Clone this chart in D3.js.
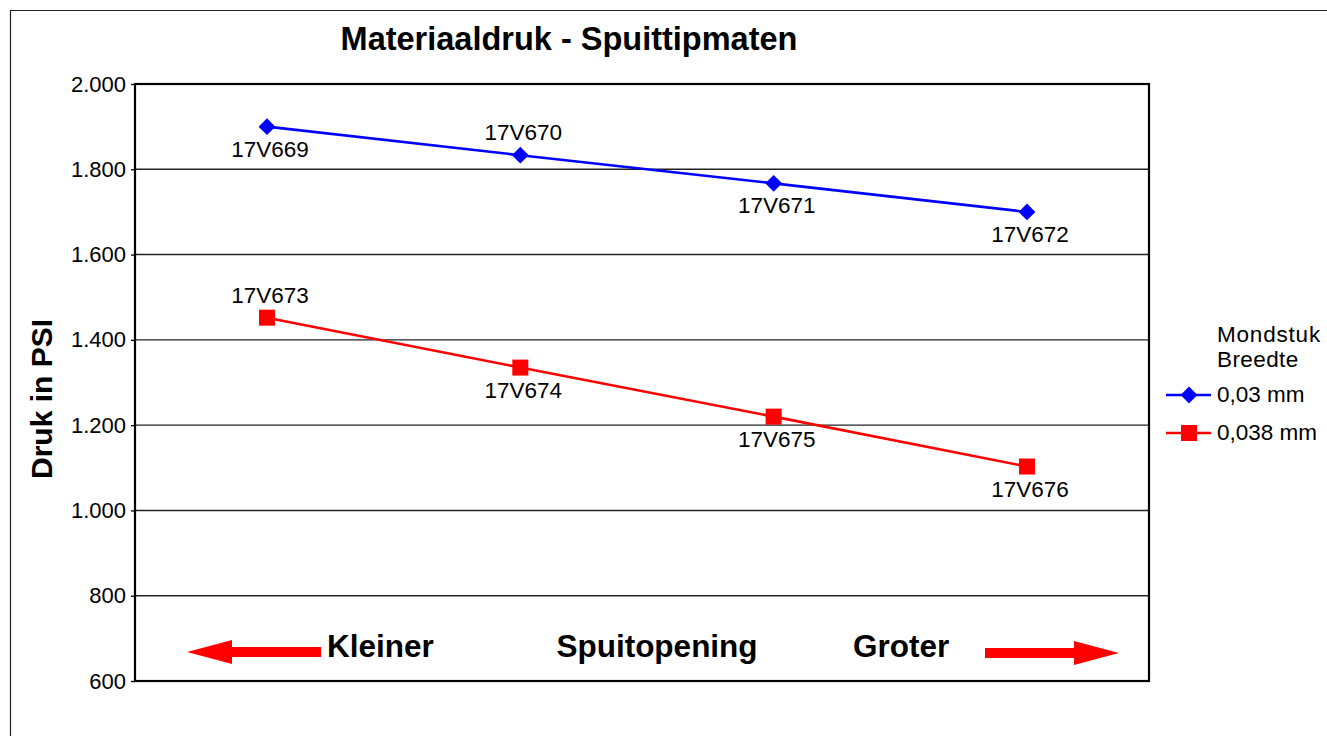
<!DOCTYPE html>
<html>
<head>
<meta charset="utf-8">
<script src="https://cdn.jsdelivr.net/npm/d3@7"></script>
<style>
  html, body { margin: 0; padding: 0; background: #fff; }
  svg { display: block; font-family: "Liberation Sans", Arial, Helvetica, sans-serif; }
</style>
</head>
<body>
<svg id="chart" width="1327" height="736"></svg>
<script>
// Nozzle tip sizes (categories along the x axis)
const positions = ["1", "2", "3", "4"];
// Pressure in PSI per nozzle width
const series003 = [1900, 1833, 1767, 1700];
const series0038 = [1452, 1335, 1220, 1103];
// Tip part numbers for each point
const labels003 = ["17V669", "17V670", "17V671", "17V672"];
const labels0038 = ["17V673", "17V674", "17V675", "17V676"];
// Label placement: true = above the point
const above003 = [false, true, false, false];
const above0038 = [true, false, false, false];
// Y axis ticks
const yTicks = [600, 800, 1000, 1200, 1400, 1600, 1800, 2000];
const yTickLabels = ["600", "800", "1.000", "1.200", "1.400", "1.600", "1.800", "2.000"];
const seriesNames = ["0,03 mm", "0,038 mm"];

const svg = d3.select("#chart");
const plot = { left: 135, right: 1149, top: 84, bottom: 681 };

const x = d3.scalePoint().domain(positions).range([267, 1027]);
const y = d3.scaleLinear().domain([600, 2000]).range([plot.bottom, plot.top]);

// outer frame
svg.append("path")
  .attr("d", `M10.5,736 V10.5 H1327`)
  .attr("fill", "none").attr("stroke", "#222").attr("stroke-width", 1.2);

// title
svg.append("text")
  .attr("x", 569).attr("y", 50)
  .attr("text-anchor", "middle")
  .attr("font-size", 32.5).attr("font-weight", "bold")
  .text("Materiaaldruk - Spuittipmaten");

// gridlines
svg.append("g").selectAll("line")
  .data(yTicks.filter(d => d !== 600 && d !== 2000))
  .join("line")
  .attr("x1", plot.left).attr("x2", plot.right)
  .attr("y1", d => y(d)).attr("y2", d => y(d))
  .attr("stroke", "#222").attr("stroke-width", 1.4);

// y axis
const yAxis = d3.axisLeft(y)
  .tickValues(yTicks)
  .tickSize(4)
  .tickPadding(5)
  .tickFormat((d, i) => yTickLabels[i]);
const ga = svg.append("g").attr("transform", `translate(${plot.left},0)`).call(yAxis);
ga.select(".domain").remove();
ga.selectAll(".tick line").attr("stroke", "#000").attr("stroke-width", 1.3);
ga.selectAll(".tick text")
  .attr("font-size", 22)
  .attr("font-family", "Liberation Sans, Arial, sans-serif")
  .attr("fill", "#000");

// plot frame
svg.append("rect")
  .attr("x", plot.left).attr("y", plot.top)
  .attr("width", plot.right - plot.left).attr("height", plot.bottom - plot.top)
  .attr("fill", "none").attr("stroke", "#000").attr("stroke-width", 2.2);

// y axis title
svg.append("text")
  .attr("transform", `translate(52,399) rotate(-90)`)
  .attr("text-anchor", "middle")
  .attr("font-size", 30).attr("font-weight", "bold")
  .text("Druk in PSI");

const line = d3.line().x((d, i) => x(positions[i])).y(d => y(d));

// blue series
svg.append("path").datum(series003)
  .attr("d", line).attr("fill", "none")
  .attr("stroke", "#0000ff").attr("stroke-width", 2.6);
svg.append("g").selectAll("path")
  .data(series003).join("path")
  .attr("d", d3.symbol(d3.symbolDiamond2, 180))
  .attr("transform", (d, i) => `translate(${x(positions[i])},${y(d)})`)
  .attr("fill", "#0000ff");

// red series
svg.append("path").datum(series0038)
  .attr("d", line).attr("fill", "none")
  .attr("stroke", "#ff0000").attr("stroke-width", 2.6);
svg.append("g").selectAll("rect")
  .data(series0038).join("rect")
  .attr("x", (d, i) => x(positions[i]) - 8)
  .attr("y", d => y(d) - 8)
  .attr("width", 16).attr("height", 16)
  .attr("fill", "#ff0000");

// point labels
function pointLabels(values, names, above) {
  svg.append("g").selectAll("text")
    .data(values).join("text")
    .attr("x", (d, i) => x(positions[i]) + 3)
    .attr("y", (d, i) => above[i] ? y(d) - 15 : y(d) + 30)
    .attr("text-anchor", "middle")
    .attr("font-size", 22.5)
    .text((d, i) => names[i]);
}
pointLabels(series003, labels003, above003);
pointLabels(series0038, labels0038, above0038);

// direction arrows and captions
svg.append("path")
  .attr("d", "M187,652 L232,640 L232,647 L321,647 L321,657 L232,657 L232,664 Z")
  .attr("fill", "#ff0000");
svg.append("path")
  .attr("d", "M1119,653 L1074,641 L1074,648 L985,648 L985,658 L1074,658 L1074,665 Z")
  .attr("fill", "#ff0000");
svg.append("text").attr("x", 327).attr("y", 657)
  .attr("font-size", 31.5).attr("font-weight", "bold").text("Kleiner");
svg.append("text").attr("x", 657).attr("y", 657).attr("text-anchor", "middle")
  .attr("font-size", 31.5).attr("font-weight", "bold").text("Spuitopening");
svg.append("text").attr("x", 853).attr("y", 657)
  .attr("font-size", 31.5).attr("font-weight", "bold").text("Groter");

// legend
const lg = svg.append("g");
lg.append("text").attr("x", 1217).attr("y", 342).attr("font-size", 22.5)
  .attr("letter-spacing", 0.8).text("Mondstuk");
lg.append("text").attr("x", 1217).attr("y", 367).attr("font-size", 22.5)
  .attr("letter-spacing", 0.4).text("Breedte");
const legendY = [395, 433];
const colors = ["#0000ff", "#ff0000"];
legendY.forEach((ly, i) => {
  lg.append("line").attr("x1", 1166).attr("x2", 1211).attr("y1", ly).attr("y2", ly)
    .attr("stroke", colors[i]).attr("stroke-width", 2.6);
  if (i === 0) {
    lg.append("path").attr("d", d3.symbol(d3.symbolDiamond2, 180))
      .attr("transform", `translate(1189,${ly})`).attr("fill", colors[i]);
  } else {
    lg.append("rect").attr("x", 1181).attr("y", ly - 8).attr("width", 16).attr("height", 16)
      .attr("fill", colors[i]);
  }
  lg.append("text").attr("x", 1217).attr("y", ly + 7).attr("font-size", 22.5).text(seriesNames[i]);
});
</script>
</body>
</html>
